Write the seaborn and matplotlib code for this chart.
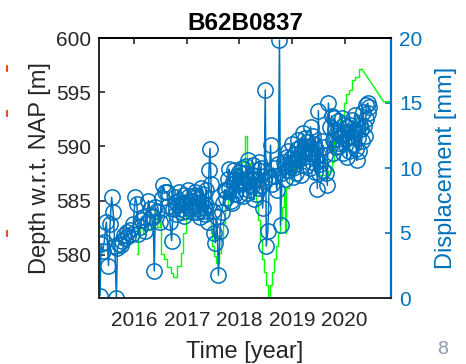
import matplotlib
matplotlib.use("Agg")
import matplotlib.pyplot as plt
from matplotlib.lines import Line2D
import pandas as pd
import seaborn as sns

# Depth series (decimal year, depth w.r.t. NAP in m)
depth_time = [
    2015.35, 2015.37, 2015.40, 2015.43, 2015.47, 2015.51, 2015.54, 2015.57, 2015.60, 2015.63,
    2015.66, 2015.68, 2015.71, 2015.74, 2015.77, 2015.80, 2015.83, 2015.86, 2015.89, 2015.92,
    2015.95, 2015.98, 2016.02, 2016.05, 2016.08, 2016.11, 2016.14, 2016.17, 2016.21, 2016.24,
    2016.27, 2016.30, 2016.33, 2016.36, 2016.38, 2016.40, 2016.44, 2016.48, 2016.52, 2016.55,
    2016.58, 2016.62, 2016.65, 2016.68, 2016.71, 2016.74, 2016.77, 2016.80, 2016.83, 2016.86,
    2016.89, 2016.92, 2016.95, 2016.98, 2017.01, 2017.04, 2017.07, 2017.10, 2017.13, 2017.16,
    2017.19, 2017.22, 2017.25, 2017.28, 2017.31, 2017.34, 2017.37, 2017.40, 2017.42, 2017.44,
    2017.46, 2017.49, 2017.52, 2017.54, 2017.57, 2017.60, 2017.63, 2017.66, 2017.69, 2017.72,
    2017.75, 2017.78, 2017.81, 2017.84, 2017.87, 2017.90, 2017.93, 2017.96, 2017.99, 2018.02,
    2018.05, 2018.08, 2018.11, 2018.14, 2018.17, 2018.20, 2018.23, 2018.26, 2018.29, 2018.32,
    2018.35, 2018.38, 2018.41, 2018.44, 2018.47, 2018.49, 2018.51, 2018.54, 2018.57, 2018.59,
    2018.62, 2018.65, 2018.68, 2018.71, 2018.74, 2018.76, 2018.78, 2018.81, 2018.84, 2018.87,
    2018.90, 2018.93, 2018.96, 2018.99, 2019.02, 2019.05, 2019.08, 2019.11, 2019.14, 2019.17,
    2019.20, 2019.23, 2019.26, 2019.29, 2019.32, 2019.35, 2019.38, 2019.41, 2019.44, 2019.46,
    2019.48, 2019.50, 2019.53, 2019.56, 2019.59, 2019.62, 2019.65, 2019.67, 2019.69, 2019.72,
    2019.75, 2019.78, 2019.81, 2019.84, 2019.87, 2019.90, 2019.93, 2019.96, 2019.99, 2020.02,
    2020.05, 2020.08, 2020.11, 2020.14, 2020.17, 2020.20, 2020.23, 2020.26, 2020.29, 2020.32,
    2020.35, 2020.38, 2020.41, 2020.44, 2020.47,
]
depth_m = [
    576.2, 581.0, 580.3, 581.2, 583.0, 579.0, 582.8, 585.3, 583.9, 580.8,
    576.0, 580.6, 581.0, 580.9, 581.3, 581.8, 581.5, 582.1, 581.7, 582.3,
    581.9, 582.8, 585.3, 584.7, 581.9, 582.6, 583.2, 583.5, 582.2, 583.0,
    585.0, 584.2, 583.6, 583.5, 578.5, 584.4, 584.0, 583.0, 585.2, 586.4,
    585.8, 585.8, 584.5, 583.0, 581.3, 584.2, 585.3, 583.8, 584.6, 585.0,
    584.2, 584.8, 585.5, 584.0, 584.9, 585.4, 584.3, 585.0, 584.5, 585.8,
    584.2, 585.1, 583.5, 584.8, 585.6, 583.8, 584.6, 583.0, 587.8, 589.8,
    586.5, 584.0, 582.0, 581.1, 583.5, 578.1, 582.2, 583.9, 584.8, 586.0,
    585.2, 587.0, 586.2, 585.0, 586.8, 587.8, 586.0, 587.3, 585.5, 586.9,
    588.0, 586.6, 587.5, 585.7, 588.7, 587.0, 586.3, 588.3, 587.0, 585.6,
    587.8, 586.2, 588.0, 584.3, 586.8, 595.2, 580.8, 582.2, 587.2, 590.1,
    586.5, 588.0, 587.3, 586.0, 588.4, 599.8, 582.7, 587.5, 588.6, 587.0,
    589.0, 587.8, 588.5, 590.2, 588.0, 589.3, 587.5, 590.6, 588.8, 590.0,
    591.2, 589.0, 588.2, 590.4, 589.5, 591.8, 588.6, 590.2, 587.6, 589.8,
    586.1, 593.3, 588.4, 590.5, 587.8, 589.2, 587.5, 586.4, 594.0, 591.8,
    592.8, 590.6, 591.5, 589.9, 592.3, 590.3, 591.0, 589.4, 592.0, 590.7,
    591.8, 589.6, 590.9, 592.4, 590.2, 591.3, 588.7, 590.8, 592.0, 590.5,
    593.2, 591.0, 593.8, 594.0, 593.6,
]

# Additional acquisitions inside the dense periods
extra_time = [
    2016.79, 2016.85, 2016.91, 2016.94, 2017.03, 2017.06, 2017.12, 2017.15, 2017.18, 2017.21,
    2017.27, 2017.30, 2017.33, 2017.36, 2017.74, 2017.80, 2017.86, 2017.92, 2017.98, 2018.00,
    2018.07, 2018.13, 2018.16, 2018.19, 2018.25, 2018.28, 2018.34, 2018.37, 2018.40, 2018.86,
    2018.92, 2018.98, 2019.01, 2019.07, 2019.10, 2019.16, 2019.19, 2019.25, 2019.28, 2019.34,
    2019.40, 2019.43, 2019.52, 2019.58, 2019.77, 2019.80, 2019.86, 2019.89, 2019.95, 2020.01,
    2020.04, 2020.10, 2020.13, 2020.19, 2020.22, 2020.28, 2020.31, 2020.37, 2020.40, 2020.45,
]
extra_m = [
    584.9, 585.8, 583.9, 583.6, 586.0, 584.6, 583.9, 585.5, 585.3, 583.9,
    586.2, 584.0, 584.4, 586.0, 585.9, 587.9, 584.8, 585.6, 586.5, 587.6,
    585.4, 588.2, 586.9, 586.0, 587.4, 585.1, 586.9, 588.6, 586.4, 588.2,
    589.6, 588.9, 587.2, 588.8, 589.8, 587.4, 588.3, 590.8, 589.9, 588.0,
    591.0, 589.0, 587.5, 589.9, 589.4, 592.6, 591.3, 590.0, 592.6, 591.2,
    589.0, 592.0, 591.4, 592.9, 589.8, 589.6, 591.6, 591.9, 592.5, 593.1,
]

# Displacement series (decimal year, mm), stepwise
disp_time = [
    2016.06, 2016.07, 2016.11, 2016.17, 2016.21, 2016.26, 2016.32, 2016.36, 2016.40, 2016.44,
    2016.48, 2016.51, 2016.57, 2016.63, 2016.69, 2016.74, 2016.82, 2016.88, 2016.93, 2016.99,
    2017.10, 2017.20, 2017.29, 2017.39, 2017.45, 2017.48, 2017.52, 2017.56, 2017.61, 2017.65,
    2017.69, 2017.73, 2017.78, 2017.84, 2017.90, 2017.95, 2018.03, 2018.10, 2018.14, 2018.20,
    2018.25, 2018.31, 2018.35, 2018.39, 2018.43, 2018.46, 2018.50, 2018.54, 2018.58, 2018.62,
    2018.65, 2018.69, 2018.73, 2018.77, 2018.80, 2018.84, 2018.86, 2018.88, 2018.94, 2018.98,
    2019.05, 2019.13, 2019.20, 2019.30, 2019.36, 2019.42, 2019.50, 2019.69, 2019.75, 2019.80,
    2019.86, 2019.92, 2019.98, 2020.03, 2020.09, 2020.14, 2020.20, 2020.28, 2020.33,
]
disp_mm = [
    3.4, 4.7, 5.5, 4.9, 5.8, 5.2, 6.5, 5.3, 6.8, 5.5,
    6.0, 3.4, 3.0, 2.4, 1.9, 1.6, 2.5, 3.5, 5.0, 6.2,
    6.5, 7.0, 6.8, 6.0, 5.0, 4.0, 3.2, 2.7, 3.5, 4.5,
    5.8, 7.0, 8.0, 9.0, 9.5, 10.0, 10.5, 12.5, 10.4, 10.0,
    9.0, 7.5, 6.0, 4.5, 3.0, 2.0, 1.0, 0.0, 1.0, 2.0,
    3.0, 4.0, 5.0, 6.0, 7.0, 8.0, 5.0, 8.5, 9.6, 10.0,
    10.5, 11.0, 11.5, 12.0, 11.5, 10.5, 9.5, 9.8, 10.5, 12.0,
    13.0, 14.0, 15.0, 15.7, 16.0, 16.8, 17.0, 17.6, 17.6,
]
# Final linear trend segment after the last step
trend_time = [2020.33, 2020.74, 2020.88]
trend_mm = [17.6, 15.1, 15.1]

year_ticks = [2016, 2017, 2018, 2019, 2020]
depth_ticks = [580, 585, 590, 595, 600]
disp_ticks = [0, 5, 10, 15, 20]

BLUE = "#0072BD"
DARK = "#262626"

sns.set_style("white")
plt.rcParams["font.family"] = ["Liberation Sans", "DejaVu Sans"]

fig = plt.figure(figsize=(4.66, 3.64), dpi=100)
ax = fig.add_axes([99 / 466, 1 - 298 / 364, 292 / 466, 260 / 364])
ax2 = ax.twinx()

depth_df = pd.concat([
    pd.DataFrame({"t": depth_time, "d": depth_m}),
    pd.DataFrame({"t": extra_time, "d": extra_m}),
]).sort_values("t").reset_index(drop=True)
disp_df = pd.DataFrame({"t": disp_time, "d": disp_mm})
trend_df = pd.DataFrame({"t": trend_time, "d": trend_mm})

# Displacement on the right axis (green stairs)
sns.lineplot(data=disp_df, x="t", y="d", ax=ax2, color="#00FF00", lw=1.0,
             drawstyle="steps-post", estimator=None, sort=False)
sns.lineplot(data=trend_df, x="t", y="d", ax=ax2, color="#00FF00", lw=1.0,
             estimator=None, sort=False)

# Depth on the left axis (blue circles joined by a line), drawn on top
ax.set_zorder(ax2.get_zorder() + 1)
ax.patch.set_visible(False)
sns.lineplot(data=depth_df, x="t", y="d", ax=ax, color=BLUE, lw=1.1,
             marker="o", markersize=11, markerfacecolor="none",
             markeredgecolor=BLUE, markeredgewidth=1.1,
             estimator=None, sort=False)

ax.set_xlim(2015.33, 2020.88)
ax.set_ylim(576, 600)
ax2.set_ylim(0, 20)

ax.set_xticks(year_ticks)
ax.set_xticklabels([str(y) for y in year_ticks])
ax.set_yticks(depth_ticks)
ax2.set_yticks(disp_ticks)

ax.tick_params(axis="x", direction="in", length=4, width=1.2, top=True,
               colors=DARK, labelsize=15, pad=9)
ax.tick_params(axis="y", direction="in", length=4, width=1.2, left=True,
               right=False, colors=DARK, labelsize=15, pad=6)
ax2.tick_params(axis="y", direction="in", length=4, width=1.2, right=True,
                colors=BLUE, labelsize=15, pad=6)

for name, sp in ax.spines.items():
    sp.set_linewidth(1.4)
    sp.set_color(DARK if name != "top" else "black")
ax.spines["right"].set_visible(False)
for name, sp in ax2.spines.items():
    sp.set_visible(name == "right")
ax2.spines["right"].set_color(BLUE)
ax2.spines["right"].set_linewidth(1.6)

ax.set_xlabel("Time [year]", fontsize=17, color=DARK, labelpad=8)
ax.set_ylabel("Depth w.r.t. NAP [m]", fontsize=17, color=DARK, labelpad=3)
ax2.set_ylabel("Displacement [mm]", fontsize=17, color=BLUE, labelpad=9)
ax.set_title("B62B0837", fontsize=17.5, fontweight="bold", color="black", pad=6)
ax.grid(False)

# Panel number and neighbouring marker ticks at the edges
fig.text(443 / 466, 1 - 349 / 364, "8", fontsize=14, color="#8a9ab0",
         ha="center", va="center")
for yy in (68, 113, 233):
    fig.add_artist(Line2D([6.5 / 466, 6.5 / 466],
                          [1 - (yy - 2.5) / 364, 1 - (yy + 2.5) / 364],
                          color="#D95319", lw=1.6, transform=fig.transFigure))

fig.savefig("out.png", dpi=100)
